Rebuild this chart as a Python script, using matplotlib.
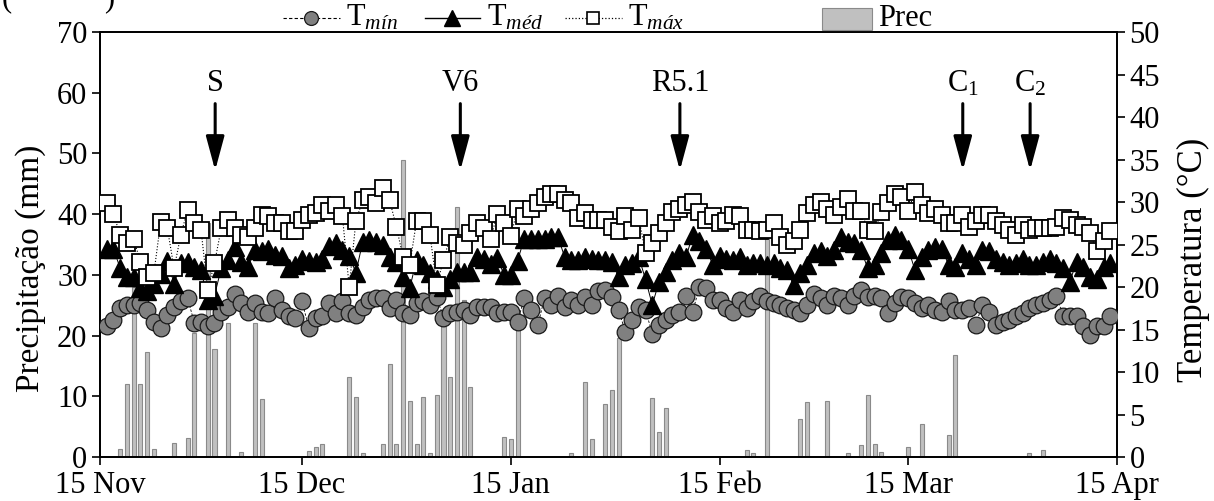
import matplotlib
matplotlib.use('Agg')
import matplotlib.pyplot as plt
from matplotlib.lines import Line2D
from matplotlib.patches import Rectangle

plt.rcParams['font.family'] = ['Liberation Serif', 'DejaVu Serif']
plt.rcParams['mathtext.fontset'] = 'custom'
plt.rcParams['mathtext.rm'] = 'Liberation Serif'
plt.rcParams['mathtext.it'] = 'Liberation Serif:italic'

# ---------------- data ----------------
# day index: 0 = 15 Nov ... 151 = 15 Apr
days = list(range(1, 151))

tmin = [15.4, 16.1, 17.5, 17.9, 17.9, 18.1, 17.3, 15.9, 15.2, 16.7,
        17.7, 18.3, 18.7, 15.8, 15.9, 15.4, 15.8, 17.1, 17.7, 19.2,
        18.1, 17.1, 18.1, 17.1, 16.9, 18.7, 17.3, 16.6, 16.3, 18.3,
        15.2, 16.3, 16.6, 18.1, 16.9, 18.3, 16.9, 16.7, 17.7, 18.5,
        18.7, 18.7, 17.5, 18.5, 16.9, 16.7, 18.1, 18.3, 17.9, 18.8,
        16.4, 16.9, 17.1, 17.3, 16.7, 17.7, 17.7, 17.7, 16.9, 17.1,
        17.1, 15.9, 18.7, 17.3, 15.5, 18.7, 17.9, 19.0, 17.7, 18.5,
        17.9, 18.8, 17.9, 19.5, 19.6, 18.8, 17.3, 14.7, 16.1, 17.7,
        17.3, 14.5, 15.5, 16.1, 16.7, 17.1, 19.0, 17.1, 20.0, 19.9,
        18.5, 18.5, 17.5, 17.1, 18.5, 17.5, 18.3, 19.0, 18.3, 18.1,
        17.9, 17.5, 17.3, 16.9, 17.9, 19.2, 18.7, 17.9, 19.0, 18.7,
        17.9, 19.0, 19.7, 18.8, 19.0, 18.7, 16.9, 18.1, 18.8, 18.7,
        18.1, 17.5, 17.9, 17.3, 17.1, 18.4, 17.3, 17.3, 17.5, 15.5,
        17.9, 17.1, 15.5, 15.9, 16.1, 16.6, 16.9, 17.5, 17.9, 18.1,
        18.5, 19.0, 16.6, 16.6, 16.6, 15.4, 14.3, 15.4, 15.4, 16.6]

tmed = [24.5, 24.5, 22.2, 21.2, 21.2, 19.9, 19.5, 20.4, 21.5, 23.1,
        20.4, 22.8, 23.0, 22.4, 22.0, 18.5, 19.0, 22.2, 23.2, 24.7,
        23.0, 22.4, 24.3, 24.2, 24.5, 23.8, 23.6, 22.2, 22.6, 23.3,
        23.1, 23.0, 23.3, 24.8, 25.2, 24.4, 23.6, 21.7, 25.3, 25.5,
        25.3, 25.0, 23.5, 22.9, 21.2, 19.9, 23.2, 22.6, 21.7, 21.0,
        20.0, 21.0, 21.8, 21.8, 21.8, 23.5, 23.3, 22.7, 23.4, 21.4,
        21.4, 23.1, 25.7, 25.7, 25.7, 25.7, 25.9, 25.9, 23.5, 23.2,
        23.2, 23.5, 23.3, 23.2, 23.2, 23.0, 21.2, 22.6, 22.8, 23.5,
        20.9, 17.9, 20.6, 21.8, 23.2, 24.0, 23.5, 26.1, 25.4, 24.5,
        22.6, 23.7, 23.3, 23.2, 23.5, 22.6, 22.8, 22.8, 22.6, 22.8,
        22.2, 22.0, 20.2, 21.6, 22.6, 24.0, 24.2, 23.7, 24.3, 25.9,
        25.3, 25.2, 24.3, 22.2, 22.6, 24.0, 25.5, 26.1, 25.5, 24.5,
        22.0, 23.5, 24.3, 24.7, 24.5, 22.6, 22.4, 24.0, 23.3, 22.6,
        24.3, 24.2, 23.3, 23.0, 22.6, 22.8, 23.3, 22.6, 22.6, 23.0,
        23.3, 22.8, 22.2, 20.6, 23.0, 22.4, 21.2, 21.0, 22.4, 22.8]

tmax = [29.9, 28.6, 26.1, 25.2, 25.6, 23.0, 21.2, 21.6, 27.6, 26.9,
        22.2, 26.1, 29.1, 27.5, 26.7, 19.7, 22.8, 26.9, 27.9, 27.0,
        26.1, 25.9, 27.0, 28.5, 28.3, 27.5, 27.5, 26.6, 26.6, 27.9,
        28.5, 28.7, 29.7, 29.0, 29.7, 28.3, 20.0, 27.8, 30.2, 30.6,
        29.9, 31.6, 30.2, 27.1, 23.5, 22.6, 27.8, 27.8, 26.1, 20.2,
        23.2, 25.9, 25.2, 24.9, 26.3, 27.5, 26.9, 25.7, 28.6, 27.5,
        26.0, 29.2, 28.3, 29.2, 29.9, 30.6, 31.0, 30.9, 30.2, 29.9,
        28.1, 28.7, 27.9, 27.9, 27.9, 27.1, 26.6, 28.3, 26.7, 28.1,
        24.0, 25.2, 26.3, 27.5, 28.8, 29.2, 29.7, 30.0, 28.8, 27.9,
        28.3, 27.5, 27.8, 28.5, 28.3, 26.7, 26.7, 26.6, 26.7, 27.5,
        25.9, 24.9, 25.4, 26.7, 28.7, 29.7, 30.0, 29.2, 28.5, 29.4,
        30.4, 29.0, 29.0, 26.7, 26.6, 28.8, 29.9, 31.0, 30.6, 29.0,
        31.2, 29.7, 28.7, 29.2, 28.5, 27.5, 27.5, 28.5, 27.1, 27.8,
        28.5, 28.5, 27.8, 27.3, 26.7, 26.1, 27.3, 26.7, 26.9, 26.9,
        26.9, 27.1, 28.1, 27.9, 27.3, 27.1, 26.3, 24.2, 25.4, 26.6]

prec_days = [3, 4, 5, 6, 7, 8, 11, 13, 14, 16, 17, 19, 21, 23, 24,
             31, 32, 33, 37, 38, 39, 42, 43, 44, 45, 46, 47, 48, 49, 50,
             51, 52, 53, 54, 55, 60, 61, 62, 70, 72, 73, 75, 76, 77,
             82, 83, 84, 96, 97, 99, 104, 105, 108, 111, 113, 114, 115,
             116, 120, 122, 126, 127, 138, 140]
prec_mm = [1.3, 12.1, 28.0, 12.1, 17.3, 1.4, 2.3, 3.1, 20.4, 38.5, 17.8,
           22.0, 0.9, 22.0, 9.5,
           1.0, 1.7, 2.2, 13.1, 9.9, 0.6, 2.2, 15.4, 2.2, 49.0, 9.3, 2.2,
           9.9, 0.6, 10.2,
           21.5, 13.2, 41.2, 25.9, 11.5, 3.3, 3.0, 23.7, 0.6, 12.4, 3.0,
           8.7, 11.0, 19.6,
           9.7, 4.1, 8.0, 1.15, 0.6, 36.3, 6.2, 9.0, 9.2, 0.6, 1.9, 10.2,
           2.2, 0.9, 1.7, 5.4, 3.7, 16.8, 0.6, 1.15]

tick_days = [0, 30, 61, 92, 120, 151]
tick_labels = ['15 Nov', '15 Dec', '15 Jan', '15 Feb', '15 Mar', '15 Apr']

stage_labels = ['S', 'V6', 'R5.1', 'C$_1$', 'C$_2$']
stage_days = [17.1, 53.5, 86.1, 128.1, 138.1]

# ---------------- figure ----------------
W, H = 1214, 501
fig = plt.figure(figsize=(W / 100, H / 100), dpi=100)
ax = fig.add_axes([100 / W, 44 / H, 1017 / W, 425 / H])
ax2 = ax.twinx()

FS = 22

ax.bar(prec_days, prec_mm, width=0.6, color='#c0c0c0', edgecolor='#8a8a8a',
       linewidth=0.8, zorder=2)
ax.set_xlim(0, 151)
ax.set_ylim(0, 70)
ax.set_yticks(range(0, 71, 10))
ax.set_xticks(tick_days)
ax.set_xticklabels(tick_labels)
ax.set_ylabel('Precipitação (mm)', fontsize=24)
ax.yaxis.set_label_coords(-0.053, 0.445)

ax2.set_ylim(0, 50)
ax2.set_yticks(range(0, 51, 5))
ax2.set_ylabel('Temperatura (°C)', fontsize=25)
ax2.yaxis.set_label_coords(1.059, 0.465)

ax2.plot(days, tmin, ls='--', color='black', lw=0.6, marker='o', ms=12,
         mfc='#808080', mec='#1a1a1a', mew=0.9, zorder=3, dashes=(3, 2))
ax2.plot(days, tmed, ls='-', color='black', lw=0.7, marker='^', ms=13,
         mfc='black', mec='black', zorder=4)
ax2.plot(days, tmax, ls=':', color='black', lw=0.8, marker='s', ms=11,
         mfc='white', mec='black', mew=1.3, zorder=5)

for a in (ax, ax2):
    a.tick_params(direction='out', length=6, width=1.2, labelsize=FS, pad=3)
    for s in a.spines.values():
        s.set_linewidth(1.3)
ax.tick_params(axis='x', pad=4)

# growth stage arrows
for lab, d in zip(stage_labels, stage_days):
    ax.annotate('', xy=(d, 47.2), xytext=(d, 58.2),
                arrowprops=dict(arrowstyle='-|>,head_length=1.3,head_width=0.35',
                                color='black', lw=2.2, mutation_scale=16,
                                shrinkA=0, shrinkB=0), zorder=6)
    ax.text(d, 61.5, lab, ha='center', va='center', fontsize=FS, zorder=6)

# ---------------- legend (manual, above axes) ----------------
ly = 1 - 18 / H
def fx(px):
    return px / W

fig.add_artist(Line2D([fx(283), fx(340)], [ly, ly], color='black', lw=0.8,
                      ls='--', dashes=(3, 2), transform=fig.transFigure))
fig.add_artist(Line2D([fx(311)], [ly], marker='o', ms=10, mfc='#808080',
                      mec='#1a1a1a', mew=0.9, transform=fig.transFigure))
fig.text(fx(346), ly, r'T$_{\mathit{mín}}$', fontsize=FS, va='center', ha='left')

fig.add_artist(Line2D([fx(425), fx(480)], [ly, ly], color='black', lw=1.0,
                      ls='-', transform=fig.transFigure))
fig.add_artist(Line2D([fx(452)], [ly], marker='^', ms=11, mfc='black',
                      mec='black', transform=fig.transFigure))
fig.text(fx(487), ly, r'T$_{\mathit{méd}}$', fontsize=FS, va='center', ha='left')

fig.add_artist(Line2D([fx(565), fx(622)], [ly, ly], color='black', lw=0.9,
                      ls=':', transform=fig.transFigure))
fig.add_artist(Line2D([fx(593)], [ly], marker='s', ms=9, mfc='white',
                      mec='black', mew=1.2, transform=fig.transFigure))
fig.text(fx(628), ly, r'T$_{\mathit{máx}}$', fontsize=FS, va='center', ha='left')

fig.add_artist(Rectangle((fx(822), 1 - 30 / H), 50 / W, 22 / H,
                         facecolor='#c0c0c0', edgecolor='#8a8a8a', lw=0.8,
                         transform=fig.transFigure))
fig.text(fx(878), ly, 'Prec', fontsize=FS, va='center', ha='left')

# partially cut text at the top-left corner
fig.text(fx(2), 1 - 6 / H, '(', fontsize=FS, va='baseline', ha='left')
fig.text(fx(104), 1 - 6 / H, ')', fontsize=FS, va='baseline', ha='left')

fig.savefig('out.png', dpi=100)
